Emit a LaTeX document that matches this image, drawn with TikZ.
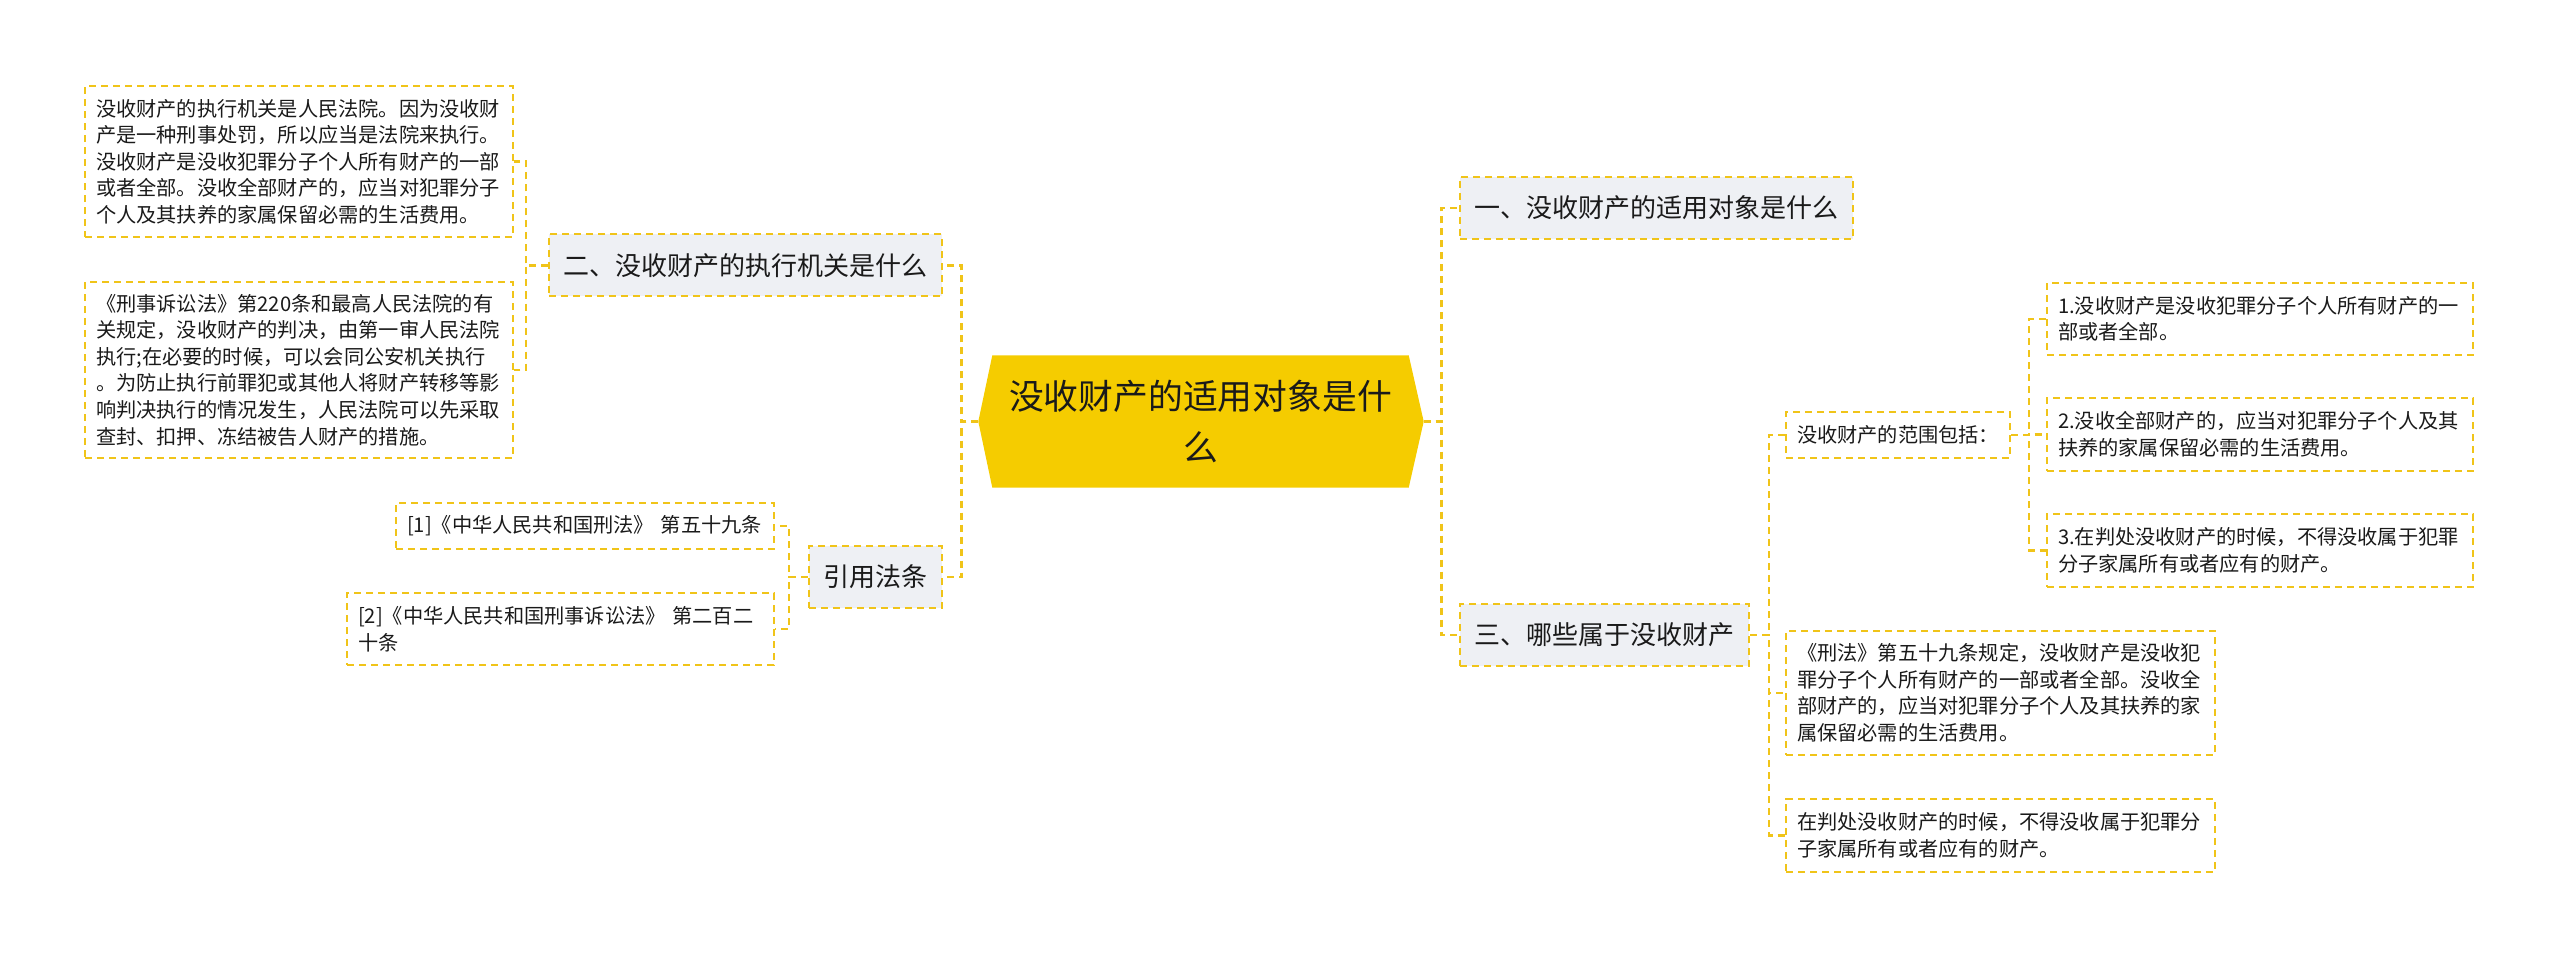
\documentclass[tikz,border=0pt]{standalone}
\usepackage{fontspec}
\newfontfamily\cjk{Noto Sans CJK SC}
\usetikzlibrary{positioning, backgrounds}

\definecolor{linkcol}{HTML}{F0C419}
\definecolor{rootcol}{HTML}{F5CC00}
\definecolor{topicfill}{HTML}{EEF0F4}
\definecolor{inkcol}{HTML}{1A1A1A}

\begin{document}
\begin{tikzpicture}[
    link/.style={draw=linkcol, line width=0.025cm, dash pattern=on 0.07cm off 0.05cm},
    root/.style={rectangle, minimum width=4.15cm, minimum height=1.31cm, align=center, text=inkcol, font=\cjk\fontsize{9.9pt}{14.5pt}\selectfont},
    topic/.style={rectangle, draw=linkcol, line width=0.02cm, dash pattern=on 0.07cm off 0.05cm, fill=topicfill, minimum height=0.62cm, inner xsep=0.145cm, text=inkcol, font=\cjk\fontsize{7.4pt}{9pt}\selectfont},
    leaf/.style={rectangle, draw=linkcol, line width=0.02cm, dash pattern=on 0.07cm off 0.05cm, align=left, inner xsep=0.11cm, inner ysep=0.05cm, text=inkcol, font=\cjk\fontsize{5.75pt}{7.55pt}\selectfont}
]

\useasboundingbox (0,0) rectangle (25.6,-9.59);

% Root
\node[root] (root) at (12.005,-4.215) {没收财产的适用对象是什\\么};
\coordinate (rootL) at ([xshift=-0.14cm]root.west);
\coordinate (rootR) at ([xshift=0.15cm]root.east);
\begin{scope}[on background layer]
\fill[rootcol] (root.north west) -- (root.north east) -- (rootR) -- (root.south east) -- (root.south west) -- (rootL) -- cycle;
\end{scope}

% Topics
\node[topic, anchor=east] (exec) at (9.43,-2.655) {二、没收财产的执行机关是什么};
\node[topic, anchor=east] (cite) at (9.43,-5.77) {引用法条};
\node[topic, anchor=west] (target) at (14.59,-2.08) {一、没收财产的适用对象是什么};
\node[topic, anchor=west] (which) at (14.59,-6.35) {三、哪些属于没收财产};

\draw[link] (rootL) -- ++(-0.17,0) |- (exec.east);
\draw[link] (rootL) -- ++(-0.17,0) |- (cite.east);
\draw[link] (rootR) -- ++(0.18,0) |- (target.west);
\draw[link] (rootR) -- ++(0.18,0) |- (which.west);

% Left leaves
\node[leaf, anchor=east, text width=4.06cm, minimum height=1.51cm] (court) at (5.14,-1.615) {没收财产的执行机关是人民法院。因为没收财\\产是一种刑事处罚，所以应当是法院来执行。\\没收财产是没收犯罪分子个人所有财产的一部\\或者全部。没收全部财产的，应当对犯罪分子\\个人及其扶养的家属保留必需的生活费用。};
\node[leaf, anchor=east, text width=4.06cm, minimum height=1.76cm] (procedure) at (5.14,-3.70) {《刑事诉讼法》第220条和最高人民法院的有\\关规定，没收财产的判决，由第一审人民法院\\执行;在必要的时候，可以会同公安机关执行\\。为防止执行前罪犯或其他人将财产转移等影\\响判决执行的情况发生，人民法院可以先采取\\查封、扣押、冻结被告人财产的措施。};
\node[leaf, anchor=east, text width=3.56cm, minimum height=0.46cm] (ref1) at (7.75,-5.26) {[1]《中华人民共和国刑法》 第五十九条};
\node[leaf, anchor=east, text width=4.05cm, minimum height=0.72cm] (ref2) at (7.75,-6.29) {[2]《中华人民共和国刑事诉讼法》 第二百二\\十条};

\draw[link] (exec.west) -- ++(-0.22,0) |- (court.east);
\draw[link] (exec.west) -- ++(-0.22,0) |- (procedure.east);
\draw[link] (cite.west) -- ++(-0.19,0) |- (ref1.east);
\draw[link] (cite.west) -- ++(-0.19,0) |- (ref2.east);

% Right leaves
\node[leaf, anchor=west, text width=2.02cm, minimum height=0.46cm] (scope) at (17.85,-4.35) {没收财产的范围包括：};
\node[leaf, anchor=west, text width=4.07cm, minimum height=1.24cm] (law) at (17.85,-6.93) {《刑法》第五十九条规定，没收财产是没收犯\\罪分子个人所有财产的一部或者全部。没收全\\部财产的，应当对犯罪分子个人及其扶养的家\\属保留必需的生活费用。};
\node[leaf, anchor=west, text width=4.07cm, minimum height=0.73cm] (family) at (17.85,-8.355) {在判处没收财产的时候，不得没收属于犯罪分\\子家属所有或者应有的财产。};

\node[leaf, anchor=west, text width=4.04cm, minimum height=0.72cm] (item1) at (20.46,-3.19) {1.没收财产是没收犯罪分子个人所有财产的一\\部或者全部。};
\node[leaf, anchor=west, text width=4.04cm, minimum height=0.73cm] (item2) at (20.46,-4.345) {2.没收全部财产的，应当对犯罪分子个人及其\\扶养的家属保留必需的生活费用。};
\node[leaf, anchor=west, text width=4.04cm, minimum height=0.73cm] (item3) at (20.46,-5.505) {3.在判处没收财产的时候，不得没收属于犯罪\\分子家属所有或者应有的财产。};

\draw[link] (which.east) -- ++(0.19,0) |- (scope.west);
\draw[link] (which.east) -- ++(0.19,0) |- (law.west);
\draw[link] (which.east) -- ++(0.19,0) |- (family.west);
\draw[link] (scope.east) -- ++(0.18,0) |- (item1.west);
\draw[link] (scope.east) -- ++(0.18,0) |- (item2.west);
\draw[link] (scope.east) -- ++(0.18,0) |- (item3.west);

\end{tikzpicture}
\end{document}
